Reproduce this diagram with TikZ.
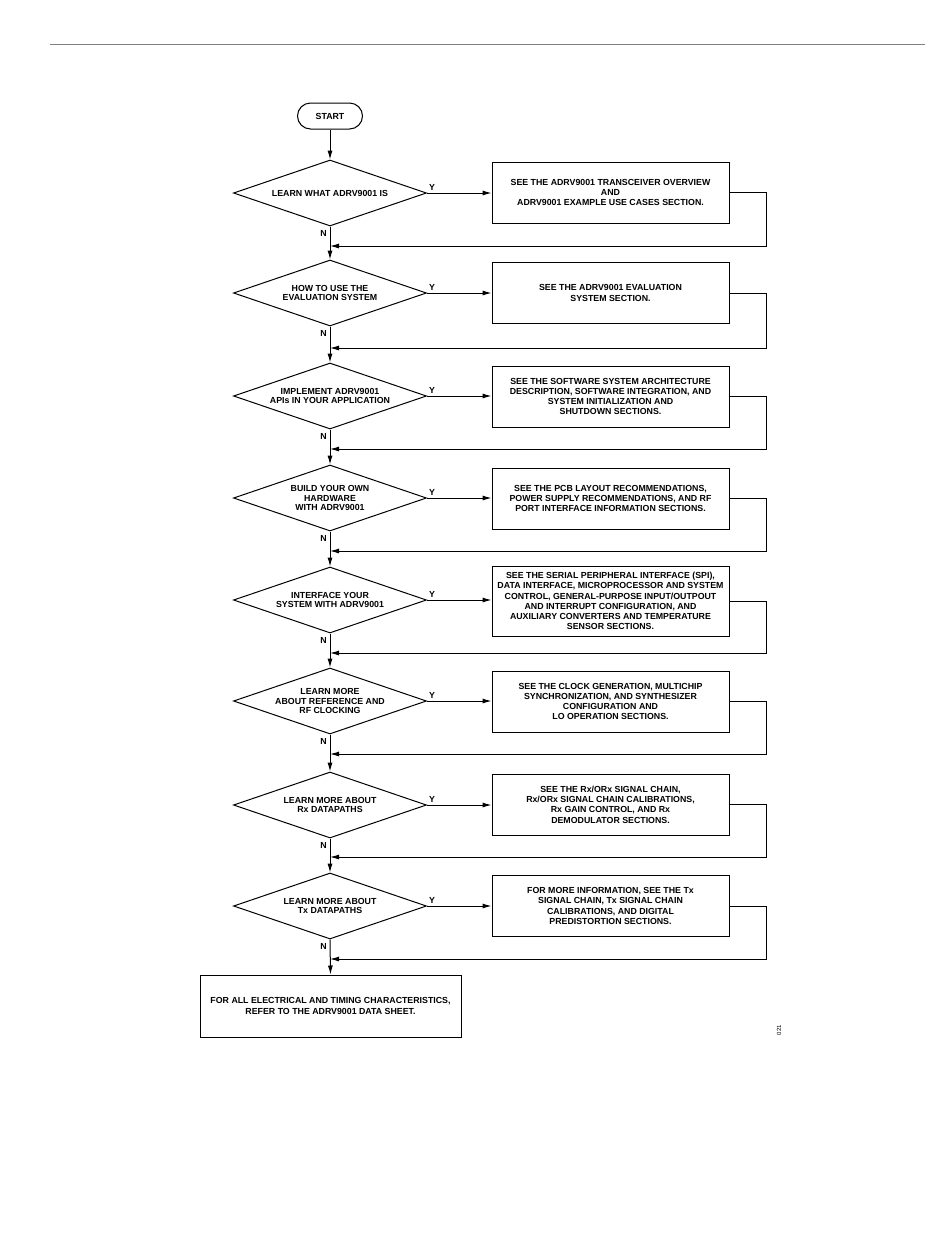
\documentclass[tikz,border=0pt]{standalone}
\usepackage{fontspec}
\setmainfont{Liberation Sans}
\usetikzlibrary{shapes.geometric,arrows.meta}

\begin{document}
\begin{tikzpicture}[x=1pt,y=-1pt,
  every node/.style={font=\bfseries\fontsize{8.8}{10.3}\selectfont, align=center},
  ask/.style={shape=diamond, draw, line width=1pt, aspect=2.9, inner sep=0pt, minimum width=193pt, minimum height=66pt, font=\bfseries\fontsize{8.8}{9.7}\selectfont},
  info/.style={shape=rectangle, draw, line width=1pt, inner sep=2pt, minimum width=237pt, minimum height=61pt},
  flow/.style={line width=1pt, -{Latex[length=9pt,width=5pt]}},
  ]
\useasboundingbox (0,0) rectangle (950,1248);
\draw[gray, line width=1pt] (50,44) -- (925,44);

\node[draw, line width=1pt, rounded corners=13pt, minimum width=65pt, minimum height=26pt] (start) at (330,116) {START};

% questions
\node[ask] (d1) at (330,193) {LEARN WHAT ADRV9001 IS};
\node[ask] (d2) at (330,293) {HOW TO USE THE\\EVALUATION SYSTEM};
\node[ask] (d3) at (330,396) {IMPLEMENT ADRV9001\\APIs IN YOUR APPLICATION};
\node[ask] (d4) at (330,498) {BUILD YOUR OWN\\HARDWARE\\WITH ADRV9001};
\node[ask] (d5) at (330,600) {INTERFACE YOUR\\SYSTEM WITH ADRV9001};
\node[ask] (d6) at (330,701) {LEARN MORE\\ABOUT REFERENCE AND\\RF CLOCKING};
\node[ask] (d7) at (330,805) {LEARN MORE ABOUT\\Rx DATAPATHS};
\node[ask] (d8) at (330,906) {LEARN MORE ABOUT\\Tx DATAPATHS};

% where to read
\node[info] (b1) at (610.5,192.5) {SEE THE ADRV9001 TRANSCEIVER OVERVIEW\\AND\\ADRV9001 EXAMPLE USE CASES SECTION.};
\node[info] (b2) at (610.5,293) {SEE THE ADRV9001 EVALUATION\\SYSTEM SECTION.};
\node[info] (b3) at (610.5,396.5) {SEE THE SOFTWARE SYSTEM ARCHITECTURE\\DESCRIPTION, SOFTWARE INTEGRATION, AND\\SYSTEM INITIALIZATION AND\\SHUTDOWN SECTIONS.};
\node[info] (b4) at (610.5,498.5) {SEE THE PCB LAYOUT RECOMMENDATIONS,\\POWER SUPPLY RECOMMENDATIONS, AND RF\\PORT INTERFACE INFORMATION SECTIONS.};
\node[info, minimum height=70pt] (b5) at (610.5,601) {SEE THE SERIAL PERIPHERAL INTERFACE (SPI),\\DATA INTERFACE, MICROPROCESSOR AND SYSTEM\\CONTROL, GENERAL-PURPOSE INPUT/OUTPOUT\\AND INTERRUPT CONFIGURATION, AND\\AUXILIARY CONVERTERS AND TEMPERATURE\\SENSOR SECTIONS.};
\node[info] (b6) at (610.5,701.5) {SEE THE CLOCK GENERATION, MULTICHIP\\SYNCHRONIZATION, AND SYNTHESIZER\\CONFIGURATION AND\\LO OPERATION SECTIONS.};
\node[info] (b7) at (610.5,804.5) {SEE THE Rx/ORx SIGNAL CHAIN,\\Rx/ORx SIGNAL CHAIN CALIBRATIONS,\\Rx GAIN CONTROL, AND Rx\\DEMODULATOR SECTIONS.};
\node[info] (b8) at (610.5,906) {FOR MORE INFORMATION, SEE THE Tx\\SIGNAL CHAIN, Tx SIGNAL CHAIN\\CALIBRATIONS, AND DIGITAL\\PREDISTORTION SECTIONS.};

\node[info, minimum width=261pt, minimum height=62pt] (sheet) at (330.5,1006) {FOR ALL ELECTRICAL AND TIMING CHARACTERISTICS,\\REFER TO THE ADRV9001 DATA SHEET.};

\node[rotate=90, font=\fontsize{6}{6}\selectfont] (fig) at (779,1030) {021};

% return points
\foreach \i/\y in {1/246,2/348,3/449,4/551,5/653,6/754,7/857,8/959}{
  \coordinate (j\i) at (330,\y);
  \coordinate (r\i) at (766,\y);
}

\draw[flow] (start) -- (d1);
\foreach \i/\n in {1/2,2/3,3/4,4/5,5/6,6/7,7/8}
  \draw[flow] (d\i.south) -- (d\n.north);
\draw[flow] (d8.south) -- (sheet.north);

\foreach \i in {1,...,8}{
  \draw[flow] (d\i.east) -- (d\i.east -| b\i.west);
  \draw[flow] (b\i.east) -| (r\i) -- (j\i);
  \node[anchor=south west, inner sep=2pt] (y\i) at (d\i.east) {Y};
  \node[anchor=north east, inner sep=2pt] (n\i) at ([xshift=-1pt,yshift=-2pt]d\i.south) {N};
}
\end{tikzpicture}
\end{document}
